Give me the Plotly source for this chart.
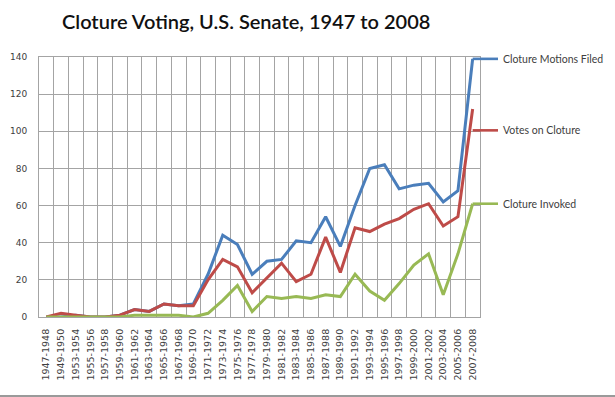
import plotly.graph_objects as go

categories = ["1947-1948", "1949-1950", "1953-1954", "1955-1956", "1957-1958",
              "1959-1960", "1961-1962", "1963-1964", "1965-1966", "1967-1968",
              "1969-1970", "1971-1972", "1973-1974", "1975-1976", "1977-1978",
              "1979-1980", "1981-1982", "1983-1984", "1985-1986", "1987-1988",
              "1989-1990", "1991-1992", "1993-1994", "1995-1996", "1997-1998",
              "1999-2000", "2001-2002", "2003-2004", "2005-2006", "2007-2008"]

motions_filed = [0, 0, 1, 0, 0, 1, 4, 3, 7, 6, 7, 23, 44, 39, 23, 30, 31, 41, 40, 54,
                 38, 60, 80, 82, 69, 71, 72, 62, 68, 139]
votes_on_cloture = [0, 2, 1, 0, 0, 1, 4, 3, 7, 6, 6, 20, 31, 27, 13, 21, 29, 19, 23, 43,
                    24, 48, 46, 50, 53, 58, 61, 49, 54, 112]
cloture_invoked = [0, 0, 0, 0, 0, 0, 1, 1, 1, 1, 0, 2, 9, 17, 3, 11, 10, 11, 10, 12,
                   11, 23, 14, 9, 18, 28, 34, 12, 34, 61]

series_names = ["Cloture Motions Filed", "Votes on Cloture", "Cloture Invoked"]
series_colors = ["#4a7ebb", "#be4b48", "#98b954"]
label_values = [139, 100.5, 61]   # vertical positions of the side labels (value units)

y_max = 140
W, H = 615, 397
L, R, T, B = 39, 135, 57, 80
plot_w = W - L - R
plot_h = H - T - B

fig = go.Figure()
for name, vals, col in zip(series_names,
                           [motions_filed, votes_on_cloture, cloture_invoked],
                           series_colors):
    fig.add_trace(go.Scatter(x=categories, y=vals, mode="lines", name=name,
                             line=dict(color=col, width=3), showlegend=False))

n = len(categories)
x_last = (n - 0.5) / n
x_end = (498 - L) / plot_w
x_text = (501 - L) / plot_w
for name, col, v in zip(series_names, series_colors, label_values):
    yp = v / y_max
    fig.add_shape(type="line", xref="paper", yref="paper", x0=x_last, x1=x_end,
                  y0=yp, y1=yp, line=dict(color=col, width=2.6))
    fig.add_annotation(xref="paper", yref="paper", x=x_text, y=yp, text=name,
                       showarrow=False, xanchor="left", yanchor="middle",
                       font=dict(family="Lato", size=10.5, color="#404040"))

# bottom frame line of image
yb = -(396 - (T + plot_h)) / plot_h
fig.add_shape(type="line", xref="paper", yref="paper",
              x0=-L / plot_w, x1=(W - L) / plot_w, y0=yb, y1=yb,
              line=dict(color="#9a9a9a", width=2))

grid = "#a4a4a4"
fig.update_layout(
    width=W, height=H,
    margin=dict(l=L, r=R, t=T, b=B, autoexpand=False),
    paper_bgcolor="white", plot_bgcolor="white",
    title=dict(text="Cloture Voting, U.S. Senate, 1947 to 2008",
               xref="container", yref="container",
               x=62 / W, xanchor="left", y=1 - 22 / H, yanchor="middle",
               font=dict(family="Lato", size=20, color="#111111", weight=600)),
    xaxis=dict(type="category", tickson="boundaries", showgrid=True, gridcolor=grid,
               gridwidth=1, ticks="", tickangle=-90, showline=True, linecolor=grid,
               mirror=True, range=[-0.5, n - 0.5], automargin=False,
               ticklabelstandoff=7,
               tickfont=dict(family="DejaVu Sans", size=9.5, color="#404040")),
    yaxis=dict(range=[0, y_max], dtick=20, showgrid=True, gridcolor=grid, gridwidth=1,
               showline=True, linecolor=grid, mirror=True, ticks="", zeroline=False,
               automargin=False, ticklabelstandoff=9,
               tickfont=dict(family="DejaVu Sans", size=9, color="#404040")),
)

fig.write_html("out.html", config={"displayModeBar": False},
               post_script="document.body.style.margin='0';document.body.style.overflow='hidden';")
